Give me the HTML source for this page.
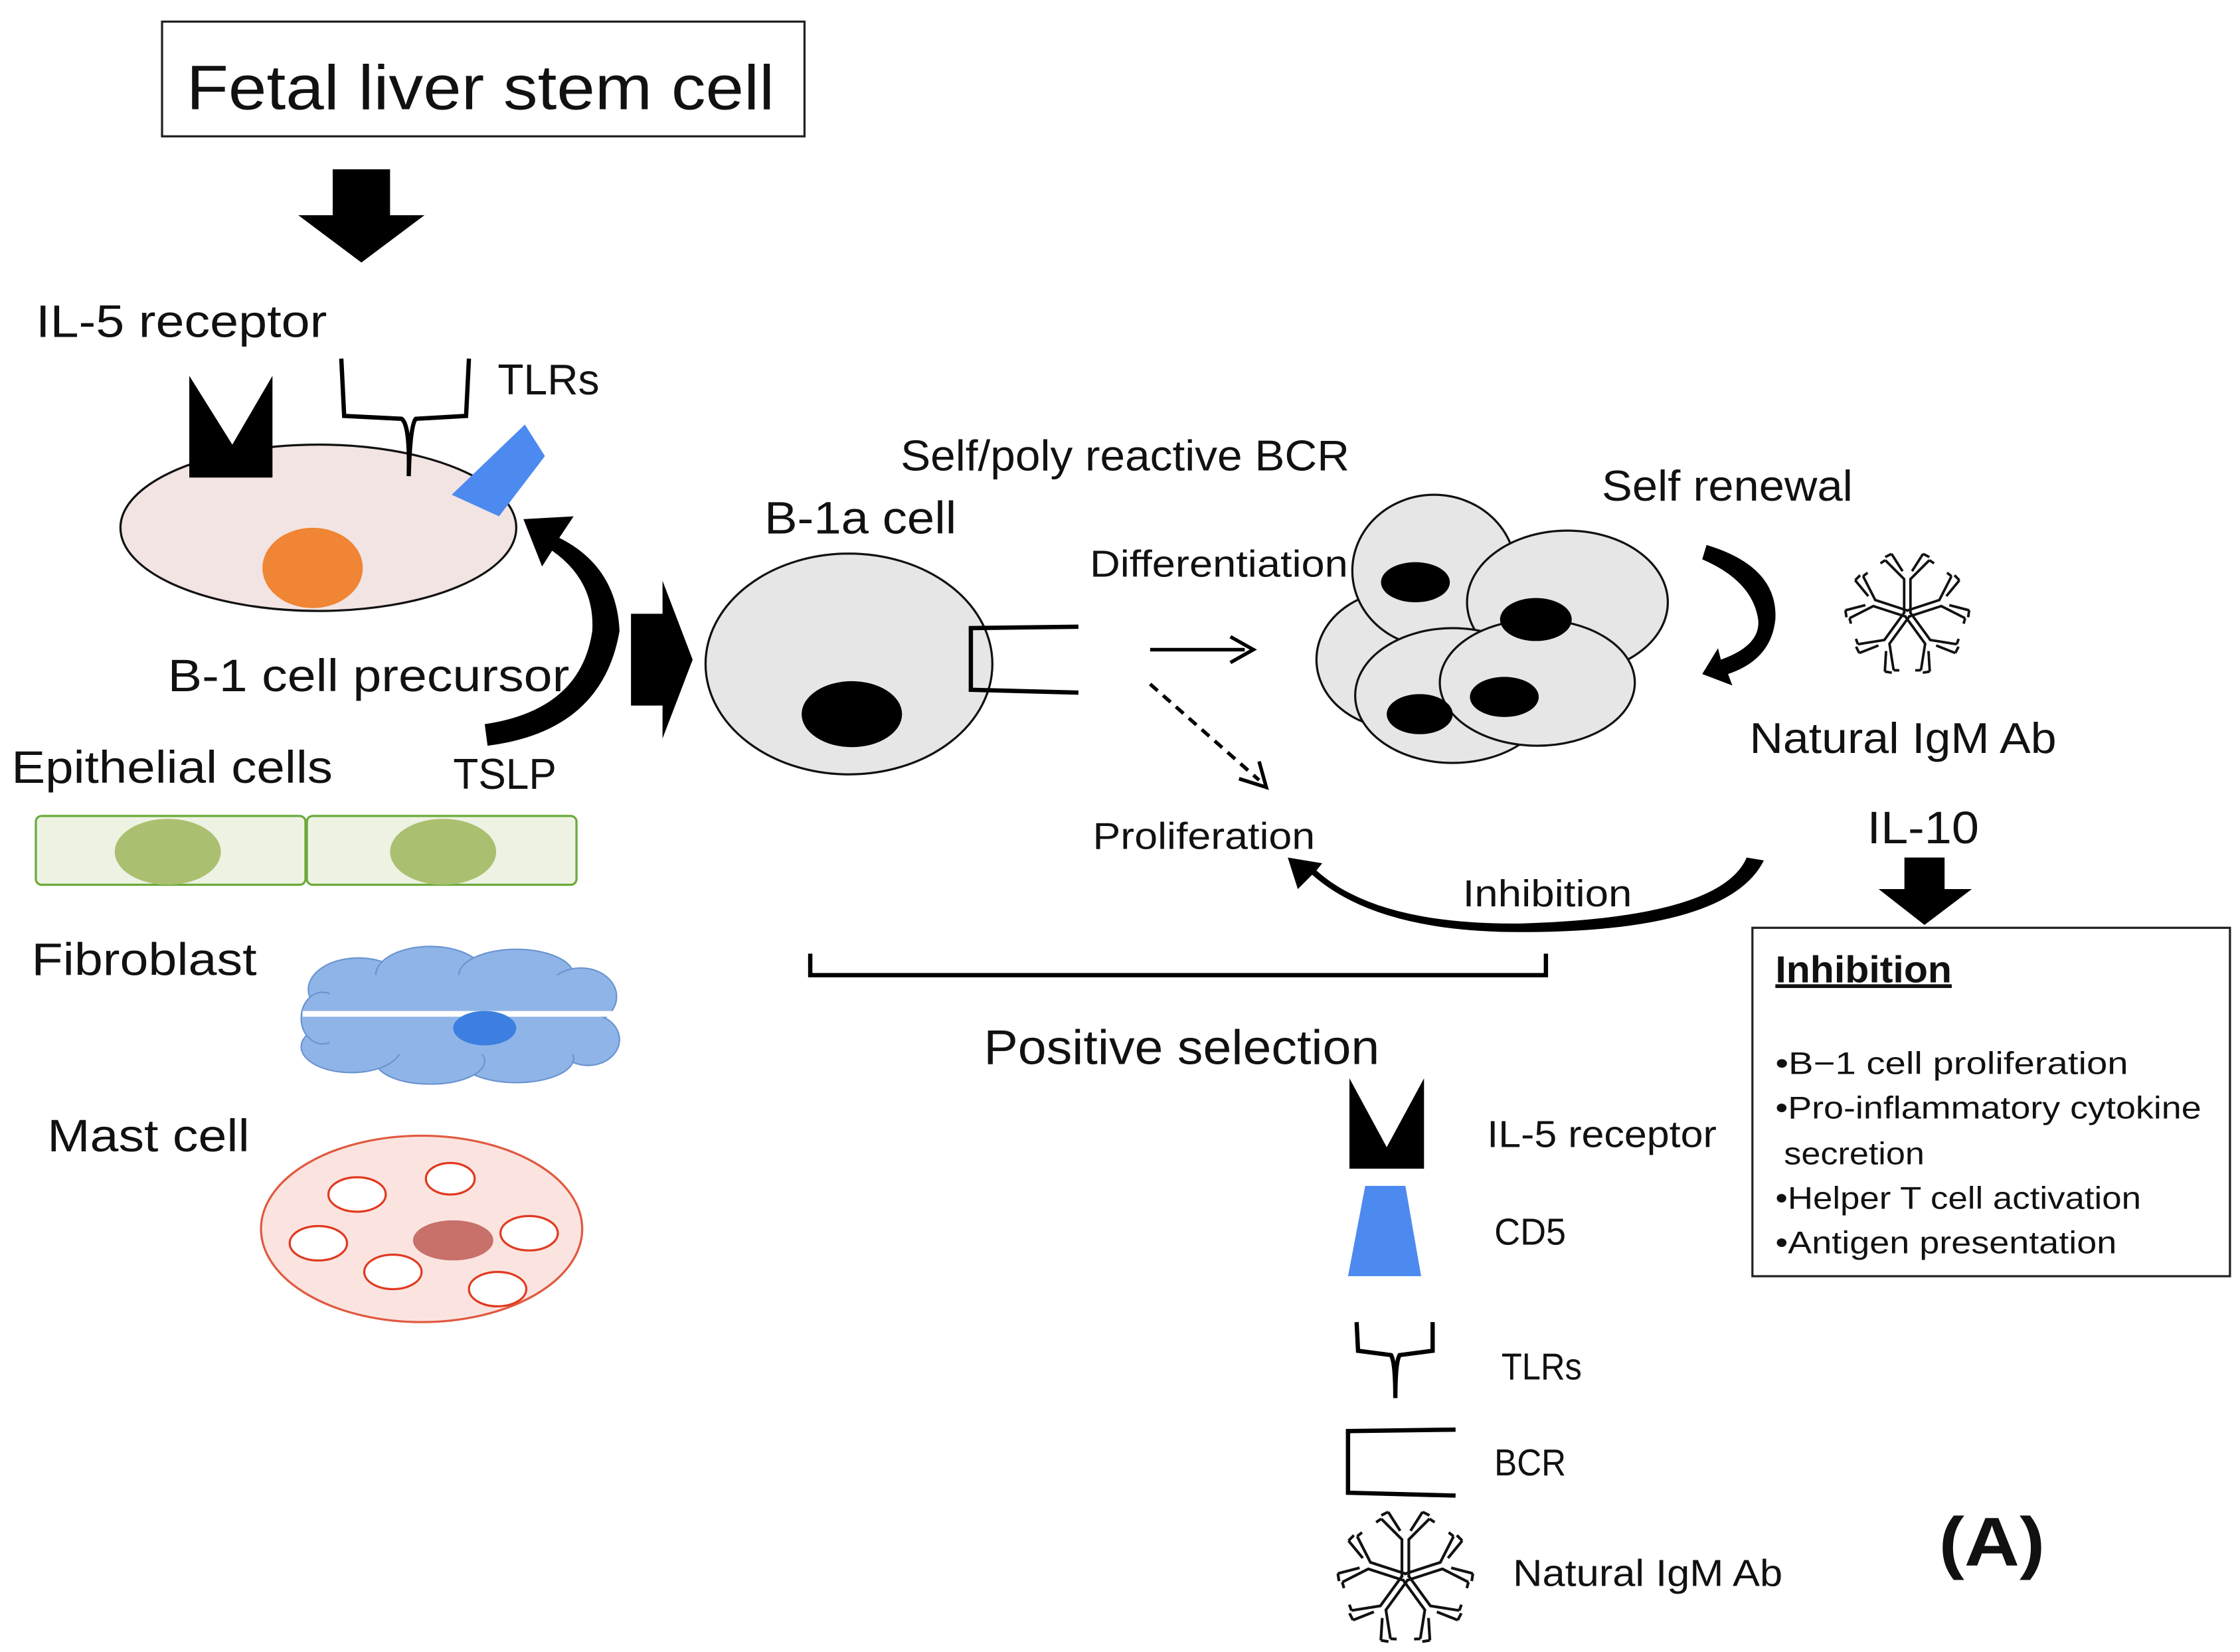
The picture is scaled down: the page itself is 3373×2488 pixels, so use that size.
<!DOCTYPE html>
<html><head><meta charset="utf-8"><style>html,body{margin:0;padding:0;background:#fff}svg{display:block}text{font-family:"Liberation Sans",sans-serif;fill:#111}</style></head>
<body>
<svg width="3373" height="2488" viewBox="0 0 1562 1152" xmlns="http://www.w3.org/2000/svg">
<defs>
<g id="y">
 <path d="M-2,0 L-2,-22 L-14,-34 M2,0 L2,-22 L14,-34 M-3,-27 L-10,-38 M3,-27 L10,-38" stroke="#111" stroke-width="1.6" fill="none"/>
 <path d="M-14,-34 L-17,-32 M14,-34 L17,-32 M-10,-38 L-14,-36 M10,-38 L14,-36" stroke="#111" stroke-width="1.6"/>
</g>
<g id="igm">
 <use href="#y" transform="rotate(0)"/><use href="#y" transform="rotate(72)"/><use href="#y" transform="rotate(144)"/><use href="#y" transform="rotate(216)"/><use href="#y" transform="rotate(288)"/>
</g>
</defs>
<rect width="1562" height="1152" fill="#fff"/>
<!-- top box -->
<rect x="113" y="15" width="448" height="80" fill="#fff" stroke="#222" stroke-width="1.5"/>
<text x="130" y="76" font-size="44" textLength="410" lengthAdjust="spacingAndGlyphs">Fetal liver stem cell</text>
<polygon points="232,118 272,118 272,150 296,150 252,183 208,150 232,150" fill="#000"/>
<text x="25" y="235" font-size="32" textLength="203" lengthAdjust="spacingAndGlyphs">IL-5 receptor</text>
<text x="347" y="275" font-size="30" textLength="71" lengthAdjust="spacingAndGlyphs">TLRs</text>
<!-- precursor -->
<ellipse cx="222" cy="368" rx="138" ry="58" fill="#f2e4e2" stroke="#111" stroke-width="1.5"/>
<ellipse cx="218" cy="396" rx="35" ry="28" fill="#ef8535"/>
<polygon points="132,262 162,310 190,262 190,333 132,333" fill="#000"/>
<path d="M238,250 L240,290 L280,292 Q286,296 285,332 M285,332 Q286,296 290,292 L325,290 L327,250" stroke="#000" stroke-width="3" fill="none"/>
<polygon points="315,345 366,296 380,318 348,360" fill="#4d8af0"/>
<path d="M338,505 L340,520 Q420,510 432,440 Q430,395 390,375 L400,360 L365,362 L378,395 L385,384 Q415,405 413,440 Q405,495 338,505 Z" fill="#000"/>
<text x="117" y="482" font-size="32" textLength="280" lengthAdjust="spacingAndGlyphs">B-1 cell precursor</text>
<polygon points="440,428 462,428 462,405 483,460 462,515 462,492 440,492" fill="#000"/>
<text x="8" y="546" font-size="32" textLength="224" lengthAdjust="spacingAndGlyphs">Epithelial cells</text>
<text x="316" y="550" font-size="30" textLength="72" lengthAdjust="spacingAndGlyphs">TSLP</text>
<rect x="25" y="569" width="188" height="48" rx="4" fill="#eef2e2" stroke="#6aaa3a" stroke-width="1.5"/>
<rect x="214" y="569" width="188" height="48" rx="4" fill="#eef2e2" stroke="#6aaa3a" stroke-width="1.5"/>
<ellipse cx="117" cy="594" rx="37" ry="23" fill="#aac070"/>
<ellipse cx="309" cy="594" rx="37" ry="23" fill="#aac070"/>
<text x="22" y="680" font-size="32" textLength="157" lengthAdjust="spacingAndGlyphs">Fibroblast</text>
<g fill="#8fb4e8" stroke="#6a94d0" stroke-width="1">
<ellipse cx="250" cy="690" rx="35" ry="22"/><ellipse cx="300" cy="680" rx="38" ry="20"/><ellipse cx="360" cy="680" rx="40" ry="18"/><ellipse cx="405" cy="695" rx="25" ry="20"/><ellipse cx="410" cy="725" rx="22" ry="18"/><ellipse cx="360" cy="738" rx="40" ry="17"/><ellipse cx="300" cy="740" rx="38" ry="16"/><ellipse cx="245" cy="730" rx="35" ry="18"/><ellipse cx="225" cy="710" rx="15" ry="18"/>
</g>
<rect x="230" y="680" width="185" height="55" fill="#8fb4e8"/>
<line x1="211" y1="707" x2="429" y2="707" stroke="#fff" stroke-width="4"/>
<ellipse cx="338" cy="717" rx="22" ry="12" fill="#3d7fe0"/>
<text x="33" y="803" font-size="32" textLength="141" lengthAdjust="spacingAndGlyphs">Mast cell</text>
<ellipse cx="294" cy="857" rx="112" ry="65" fill="#fbe4e0" stroke="#e05a40" stroke-width="1.5"/>
<ellipse cx="316" cy="865" rx="28" ry="14" fill="#c8706a"/>
<g fill="#fff" stroke="#e03a20" stroke-width="1.5">
<ellipse cx="249" cy="833" rx="20" ry="12"/><ellipse cx="314" cy="822" rx="17" ry="11"/><ellipse cx="222" cy="867" rx="20" ry="12"/><ellipse cx="369" cy="860" rx="20" ry="12"/><ellipse cx="274" cy="887" rx="20" ry="12"/><ellipse cx="347" cy="899" rx="20" ry="12"/>
</g>
<!-- B-1a cell -->
<ellipse cx="592" cy="463" rx="100" ry="77" fill="#e6e6e6" stroke="#111" stroke-width="1.5"/>
<ellipse cx="594" cy="498" rx="35" ry="23" fill="#000"/>
<path d="M752,437 L677,438 L677,481 L752,483" stroke="#000" stroke-width="3" fill="none"/>
<text x="533" y="372" font-size="32" textLength="134" lengthAdjust="spacingAndGlyphs">B-1a cell</text>
<text x="628" y="328" font-size="30" textLength="313" lengthAdjust="spacingAndGlyphs">Self/poly reactive BCR</text>
<text x="760" y="402" font-size="26" textLength="180" lengthAdjust="spacingAndGlyphs">Differentiation</text>
<line x1="802" y1="453" x2="868" y2="453" stroke="#000" stroke-width="2.5"/>
<polyline points="858,444 874,453 858,462" fill="none" stroke="#000" stroke-width="2.5"/>
<line x1="802" y1="477" x2="878" y2="544" stroke="#000" stroke-width="2.5" stroke-dasharray="7,5"/>
<polyline points="864,543 883,549 878,531" fill="none" stroke="#000" stroke-width="2.5"/>
<text x="762" y="592" font-size="26" textLength="155" lengthAdjust="spacingAndGlyphs">Proliferation</text>
<!-- cluster -->
<g fill="#e6e6e6" stroke="#111" stroke-width="1.5">
<ellipse cx="975" cy="460" rx="57" ry="48"/>
<ellipse cx="1000" cy="398" rx="57" ry="53"/>
<ellipse cx="1093" cy="420" rx="70" ry="50"/>
<ellipse cx="1013" cy="485" rx="68" ry="47"/>
<ellipse cx="1072" cy="476" rx="68" ry="44"/>
</g>
<g fill="#000"><ellipse cx="987" cy="406" rx="24" ry="14"/><ellipse cx="1071" cy="432" rx="25" ry="15"/><ellipse cx="990" cy="498" rx="23" ry="14"/><ellipse cx="1049" cy="486" rx="24" ry="14"/></g>
<text x="1117" y="349" font-size="30" textLength="175" lengthAdjust="spacingAndGlyphs">Self renewal</text>
<path d="M1187,390 L1190,380 Q1240,395 1238,432 Q1235,460 1205,470 L1208,478 L1187,470 L1198,452 L1200,460 Q1228,450 1226,432 Q1222,405 1187,390 Z" fill="#000"/>
<use href="#igm" transform="translate(1330,428) scale(1.1)"/>
<text x="1220" y="525" font-size="30" textLength="214" lengthAdjust="spacingAndGlyphs">Natural IgM Ab</text>
<text x="1302" y="588" font-size="32" textLength="78" lengthAdjust="spacingAndGlyphs">IL-10</text>
<polygon points="1328,598 1356,598 1356,620 1375,620 1342,645 1310,620 1328,620" fill="#000"/>
<!-- inhibition curve -->
<path d="M1218,598 L1230,600 Q1205,650 1060,650 Q960,650 915,610 L905,620 L898,598 L922,602 L918,607 Q960,645 1060,644 Q1200,640 1218,598 Z" fill="#000"/>
<text x="1020" y="632" font-size="26" textLength="118" lengthAdjust="spacingAndGlyphs">Inhibition</text>
<path d="M565,665 L565,680 L1078,680 L1078,665" stroke="#000" stroke-width="3" fill="none"/>
<text x="686" y="742" font-size="34" textLength="276" lengthAdjust="spacingAndGlyphs">Positive selection</text>
<!-- inhibition box -->
<rect x="1222" y="647" width="333" height="243" fill="#fff" stroke="#222" stroke-width="1.5"/>
<text x="1238" y="685" font-size="26" font-weight="bold" text-decoration="underline" textLength="123" lengthAdjust="spacingAndGlyphs">Inhibition</text>
<g font-size="22">
<text x="1238" y="749" textLength="246" lengthAdjust="spacingAndGlyphs">•B−1   cell proliferation</text>
<text x="1238" y="780" textLength="297" lengthAdjust="spacingAndGlyphs">•Pro-inflammatory cytokine</text>
<text x="1244" y="812" textLength="98" lengthAdjust="spacingAndGlyphs">secretion</text>
<text x="1238" y="843" textLength="255" lengthAdjust="spacingAndGlyphs">•Helper T cell activation</text>
<text x="1238" y="874" textLength="238" lengthAdjust="spacingAndGlyphs">•Antigen presentation</text>
</g>
<!-- legend -->
<polygon points="941,752 967,800 993,752 993,815 941,815" fill="#000"/>
<polygon points="952,827 980,827 991,890 940,890" fill="#4d8af0"/>
<path d="M946,922 L947,942 L970,945 Q973,950 973,975 M973,975 Q973,950 976,945 L999,942 L999,922" stroke="#000" stroke-width="3" fill="none"/>
<path d="M1015,997 L940,998 L940,1041 L1015,1043" stroke="#000" stroke-width="3" fill="none"/>
<use href="#igm" transform="translate(980,1100) scale(1.2)"/>
<g font-size="26">
<text x="1037" y="800" textLength="160" lengthAdjust="spacingAndGlyphs">IL-5 receptor</text>
<text x="1042" y="868" textLength="50" lengthAdjust="spacingAndGlyphs">CD5</text>
<text x="1047" y="962" textLength="56" lengthAdjust="spacingAndGlyphs">TLRs</text>
<text x="1042" y="1029" textLength="50" lengthAdjust="spacingAndGlyphs">BCR</text>
<text x="1055" y="1106" textLength="188" lengthAdjust="spacingAndGlyphs">Natural IgM Ab</text>
</g>
<text x="1352" y="1092" font-size="48" font-weight="bold" textLength="74" lengthAdjust="spacingAndGlyphs">(A)</text>
</svg>
</body></html>
